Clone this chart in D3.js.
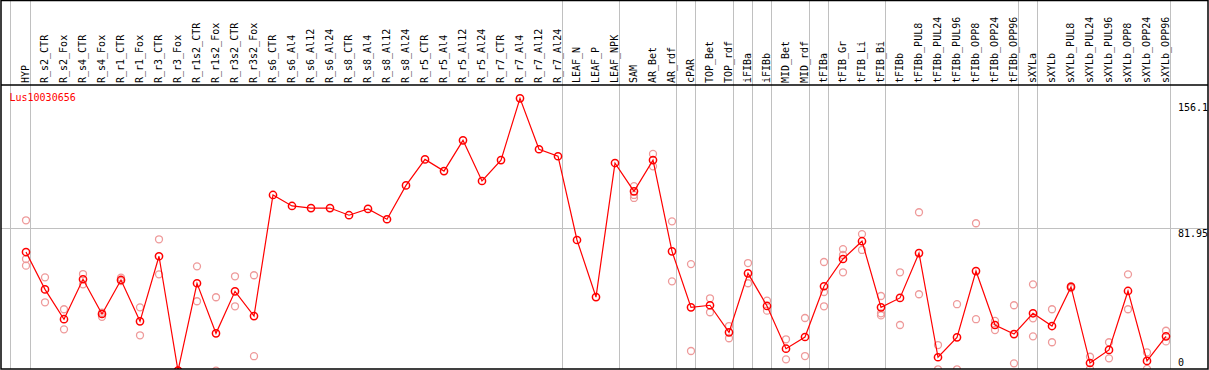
<!DOCTYPE html>
<html>
<head>
<meta charset="utf-8">
<script src="https://cdn.jsdelivr.net/npm/d3@7"></script>
<style>
    body { margin: 0; background: #fff; }
    svg { display: block; }
    text { font-family: "DejaVu Sans Mono", monospace; font-size: 10px; }
</style>
</head>
<body>
<svg id="chart"></svg>
<script>
const geneName = "Lus10030656";

const categories = [
    "HYP", "R_s2_CTR", "R_s2_Fox", "R_s4_CTR", "R_s4_Fox", "R_r1_CTR", "R_r1_Fox", "R_r3_CTR", "R_r3_Fox",
    "R_r1s2_CTR", "R_r1s2_Fox", "R_r3s2_CTR", "R_r3s2_Fox", "R_s6_CTR", "R_s6_Al4", "R_s6_Al12", "R_s6_Al24",
    "R_s8_CTR", "R_s8_Al4", "R_s8_Al12", "R_s8_Al24", "R_r5_CTR", "R_r5_Al4", "R_r5_Al12", "R_r5_Al24",
    "R_r7_CTR", "R_r7_Al4", "R_r7_Al12", "R_r7_Al24", "LEAF_N", "LEAF_P", "LEAF_NPK", "SAM", "AR_Bet", "AR_rdf",
    "cPAR", "TOP_Bet", "TOP_rdf", "iFIBa", "iFIBb", "MID_Bet", "MID_rdf", "tFIBa", "tFIB_Gr", "tFIB_Li", "tFIB_Bi",
    "tFIBb", "tFIBb_PUL8", "tFIBb_PUL24", "tFIBb_PUL96", "tFIBb_OPP8", "tFIBb_OPP24", "tFIBb_OPP96",
    "sXYLa", "sXYLb", "sXYLb_PUL8", "sXYLb_PUL24", "sXYLb_PUL96", "sXYLb_OPP8", "sXYLb_OPP24", "sXYLb_OPP96"
];

// mean expression per sample
const means = [
    68.0, 46.6, 29.5, 52.4, 32.5, 52.0, 28.3, 65.6, 0,
    50.1, 21.4, 45.5, 31.3, 100.7, 94.4, 93.2, 93.2,
    89.1, 92.7, 86.8, 106.2, 121.1, 114.4, 132.0, 108.7,
    120.7, 156.1, 126.9, 122.9, 74.9, 42.2, 119.0, 102.8, 120.7, 68.4,
    36.3, 37.5, 22.0, 55.8, 37.1, 12.6, 19.3, 48.4, 64.0, 74.2, 36.3,
    41.7, 67.4, 7.7, 19.1, 57.1, 26.2, 21.0,
    32.9, 25.6, 48.0, 4.4, 11.9, 45.7, 5.6, 19.7
];

// individual replicates per sample
const replicates = [
    [86.2, 64.0, 60.2], [53.5, 39.2], [35.2, 23.7], [55.4, 49.5], [33.2, 30.9], [53.3, 51.4], [36.3, 20.3], [75.3, 55.2], [0, 0],
    [59.8, 39.8], [42.1, 0], [54.1, 36.9], [54.7, 8.3], [], [], [], [],
    [], [], [], [], [], [], [], [],
    [], [], [], [], [], [], [], [105.8, 100.7, 99.0], [124.2, 117.1], [85.6, 51.2],
    [61.1, 11.3], [41.5, 33.5], [25.6, 18.6], [61.7, 50.1], [40.1, 34.4], [18.0, 6.5], [30.2, 8.4], [62.3, 45.1, 36.9], [69.7, 66.3, 56.4], [78.3, 69.2], [42.8, 32.9, 31.7],
    [56.4, 26.2], [90.8, 43.8], [14.7, 0.8], [38.1, 0.8], [84.5, 29.5], [28.5, 23.3], [37.5, 4.2],
    [49.5, 30.0, 19.7], [35.2, 16.3], [48.5, 47.4], [8.0, 1.0], [16.3, 7.1], [55.2, 35.2], [10.5, 1.0], [22.9, 16.8]
];

// last sample index of each tissue group
const groupEnds = [0, 28, 31, 34, 35, 37, 38, 39, 41, 42, 45, 52, 53, 60];
const yTicks = [0, 81.95, 156.1];

const width = 1209, height = 370;
const headerBottom = 85, plotBottom = 369, frameRight = 1208;

const svg = d3.select("#chart")
    .attr("width", width)
    .attr("height", height);

const x = d3.scaleLinear()
    .domain([0, categories.length - 1])
    .range([26, 1166]);

const y = d3.scaleLinear()
    .domain([0, 156.1])
    .range([370.7, 98.3]);

// group separators
const sepX = [x(-1) + 3.5].concat(groupEnds.map(i => x(i) + 4.5));
svg.append("g")
    .selectAll("line")
    .data(sepX)
    .enter().append("line")
    .attr("x1", d => d).attr("x2", d => d)
    .attr("y1", 0).attr("y2", plotBottom)
    .attr("stroke", "#c0c0c0")
    .attr("stroke-width", 1);

// horizontal grid at middle tick
svg.append("line")
    .attr("x1", 1).attr("x2", frameRight)
    .attr("y1", Math.round(y(81.95)) + 0.5).attr("y2", Math.round(y(81.95)) + 0.5)
    .attr("stroke", "#c0c0c0");

// y tick labels
svg.append("g")
    .selectAll("text")
    .data(yTicks)
    .enter().append("text")
    .attr("x", 1178)
    .attr("y", d => Math.min(Math.max(y(d) + 9.6, 111), 366))
    .attr("fill", "#000")
    .text(d => d);

// sample labels
svg.append("g")
    .selectAll("text")
    .data(categories)
    .enter().append("text")
    .attr("transform", (d, i) => `translate(${x(i) + 3}, 83) rotate(-90)`)
    .attr("fill", "#000")
    .text(d => d);

// plot area clip
svg.append("clipPath").attr("id", "clip")
    .append("rect")
    .attr("x", 1).attr("y", headerBottom)
    .attr("width", frameRight - 1).attr("height", plotBottom - headerBottom);

const plot = svg.append("g").attr("clip-path", "url(#clip)");

const repPoints = [];
replicates.forEach((reps, i) => reps.forEach(v => repPoints.push({ i: i, v: v })));

plot.selectAll(".rep")
    .data(repPoints)
    .enter().append("circle")
    .attr("class", "rep")
    .attr("cx", d => x(d.i))
    .attr("cy", d => y(d.v))
    .attr("r", 3.5)
    .attr("fill", "none")
    .attr("stroke", "#ee9a9a")
    .attr("stroke-width", 1.3);

const line = d3.line()
    .x((d, i) => x(i))
    .y(d => y(d));

plot.append("path")
    .datum(means)
    .attr("d", line)
    .attr("fill", "none")
    .attr("stroke", "#ff0000")
    .attr("stroke-width", 1.2);

plot.selectAll(".mean")
    .data(means)
    .enter().append("circle")
    .attr("class", "mean")
    .attr("cx", (d, i) => x(i))
    .attr("cy", d => y(d))
    .attr("r", 3.6)
    .attr("fill", "none")
    .attr("stroke", "#ff0000")
    .attr("stroke-width", 1.5);

// title
svg.append("text")
    .attr("x", 9.5)
    .attr("y", 101)
    .attr("fill", "#ff0000")
    .text(geneName);

// frame and header rule
svg.append("rect")
    .attr("x", 1).attr("y", 0.5)
    .attr("width", frameRight - 1).attr("height", plotBottom - 0.5)
    .attr("fill", "none")
    .attr("stroke", "#000")
    .attr("stroke-width", 1.5);

svg.append("line")
    .attr("x1", 1).attr("x2", frameRight)
    .attr("y1", headerBottom).attr("y2", headerBottom)
    .attr("stroke", "#000")
    .attr("stroke-width", 1.5);
</script>
</body>
</html>
